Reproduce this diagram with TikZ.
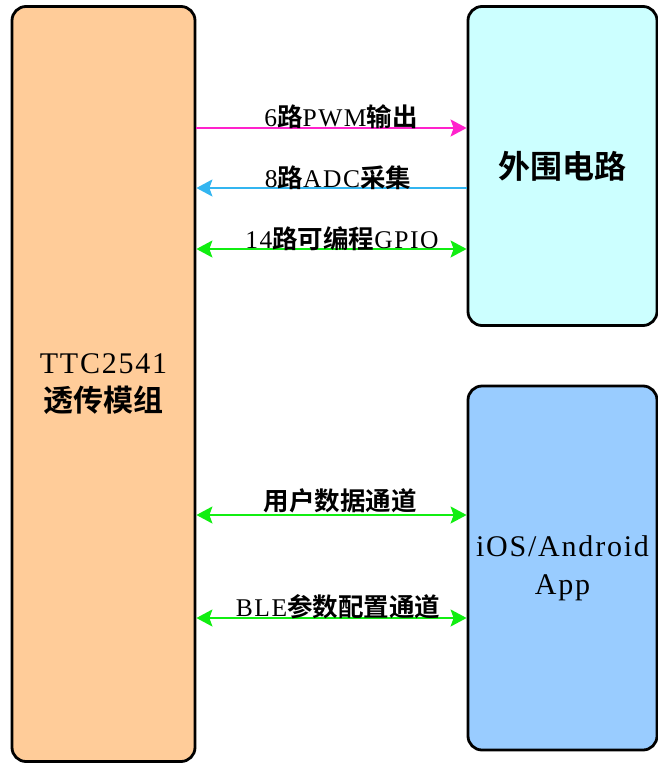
\documentclass[tikz,border=0pt]{standalone}
\usepackage{fontspec}
\setmainfont{Liberation Serif}[LetterSpace=6]
\newfontfamily\cjkfont{Noto Sans CJK SC}[BoldFont={* Bold}]
\newcommand\zh[1]{{\cjkfont\bfseries #1}}
\usetikzlibrary{arrows.meta}
\definecolor{peach}{HTML}{FFCC99}
\definecolor{paleCyan}{HTML}{CCFFFF}
\definecolor{skyBlue}{HTML}{99CCFF}
\definecolor{pwmCol}{HTML}{FF22CC}
\definecolor{adcCol}{HTML}{33B5F0}
\definecolor{gpioCol}{HTML}{11EE11}
\tikzset{
  blockbox/.style={draw=black, line width=2.8pt, rounded corners=14pt, inner sep=0pt, align=center, font=\fontsize{30}{38}\selectfont},
  linkline/.style={line width=1.8pt, >={Stealth[length=16pt, width=17pt, inset=3pt]}},
  lbl/.style={anchor=south, inner sep=0.5pt, font=\fontsize{25.5}{28}\selectfont},
}
\begin{document}
\begin{tikzpicture}[x=1pt,y=-1pt]
\useasboundingbox (0,0) rectangle (658,763);
\node[blockbox, fill=peach, minimum width=183pt, minimum height=755pt] (L) at (103.5,384) {TTC2541\\\zh{透传模组}};
\node[blockbox, fill=paleCyan, minimum width=189pt, minimum height=319pt, font=\fontsize{32}{38}\selectfont] (T) at (562.5,166) {\zh{外围电路}};
\node[blockbox, fill=skyBlue, minimum width=189pt, minimum height=364pt] (B) at (562.5,568) {iOS/Android\\App};
\coordinate (y1) at (0,128);
\coordinate (y2) at (0,188);
\coordinate (y3) at (0,249);
\coordinate (y4) at (0,515);
\coordinate (y5) at (0,618);
\draw[linkline, pwmCol, ->] (L.east |- y1) -- (T.west |- y1);
\draw[linkline, adcCol, <-] (L.east |- y2) -- (T.west |- y2);
\draw[linkline, gpioCol, <->] (L.east |- y3) -- (T.west |- y3);
\draw[linkline, gpioCol, <->] (L.east |- y4) -- (B.west |- y4);
\draw[linkline, gpioCol, <->] (L.east |- y5) -- (B.west |- y5);
\node[lbl] (l1) at (341,129) {6\zh{路}PWM\zh{输出}};
\node[lbl] (l2) at (338,190) {8\zh{路}ADC\zh{采集}};
\node[lbl] (l3) at (342,251) {14\zh{路可编程}GPIO};
\node[lbl] (l4) at (340,514) {\zh{用户数据通道}};
\node[lbl] (l5) at (338,620) {BLE\zh{参数配置通道}};
\end{tikzpicture}
\end{document}
